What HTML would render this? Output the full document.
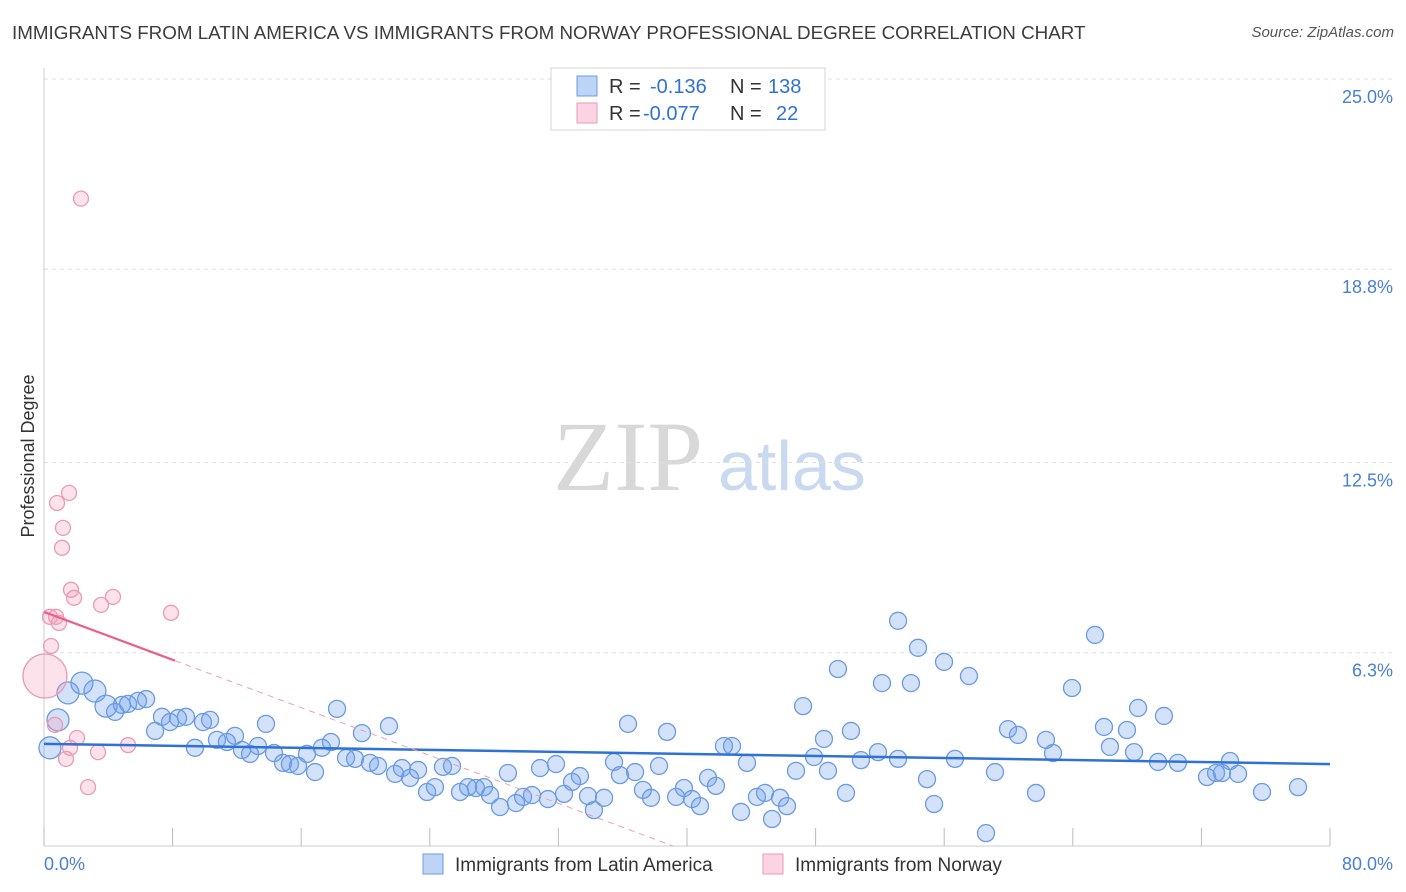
<!DOCTYPE html>
<html><head><meta charset="utf-8">
<style>
body{margin:0;background:#fff;font-family:"Liberation Sans",sans-serif;}
#wrap{position:relative;width:1406px;height:892px;overflow:hidden;}
.title{position:absolute;left:12px;top:22px;font-size:18.8px;color:#3c3c3c;white-space:nowrap;}
.source{position:absolute;right:12px;top:24px;font-size:15px;color:#555;font-style:italic;}
</style></head>
<body>
<div id="wrap">
<div class="title">IMMIGRANTS FROM LATIN AMERICA VS IMMIGRANTS FROM NORWAY PROFESSIONAL DEGREE CORRELATION CHART</div>
<div class="source">Source: ZipAtlas.com</div>
<svg id="chart" width="1406" height="892" style="position:absolute;left:0;top:0">
<text x="553" y="490" font-family="Liberation Serif,serif" font-size="100" fill="#d8d8d8">ZIP</text>
<text x="718" y="490" font-family="Liberation Sans,sans-serif" font-size="70" fill="#c9daf0">atlas</text>
</svg>
</div>
<script>
const blueX=[0.37,0.87,1.49,2.36,3.17,3.86,4.42,4.85,5.23,5.85,6.35,6.91,7.34,7.84,8.34,8.83,9.39,9.89,10.33,10.76,11.38,11.88,12.32,12.82,13.31,13.81,14.31,14.87,15.30,15.80,16.36,16.86,17.29,17.85,18.23,18.79,19.35,19.78,20.28,20.78,21.46,21.84,22.27,22.77,23.27,23.83,24.32,24.82,25.38,25.88,26.38,26.87,27.37,27.75,28.37,28.86,29.36,29.80,30.36,30.86,31.35,31.85,32.35,32.85,33.34,33.84,34.21,34.84,35.46,35.83,36.33,36.77,37.26,37.76,38.26,38.76,39.32,39.81,40.31,40.81,41.31,41.80,42.30,42.80,43.36,43.73,44.35,44.85,45.29,45.79,46.22,46.78,47.22,47.90,48.52,48.77,49.39,49.89,50.20,50.82,51.88,52.13,53.13,53.13,53.93,54.37,54.93,55.37,55.99,56.67,57.54,58.60,59.16,59.97,60.59,61.71,62.33,62.77,63.95,65.38,65.94,66.31,67.37,67.81,68.06,69.30,69.67,70.54,72.35,72.91,73.28,73.78,74.28,75.77,78.01];
const blueY=[3.20,4.11,4.99,5.31,5.05,4.56,4.37,4.60,4.63,4.73,4.79,3.75,4.21,4.04,4.17,4.21,3.20,4.04,4.11,3.46,3.39,3.59,3.13,3.00,3.26,3.98,3.03,2.71,2.67,2.61,3.00,2.41,3.20,3.39,4.47,2.87,2.84,3.68,2.71,2.61,3.91,2.35,2.54,2.22,2.48,1.76,1.92,2.58,2.61,1.76,1.92,1.89,1.92,1.66,1.27,2.38,1.40,1.60,1.66,2.54,1.53,2.67,1.70,2.09,2.28,1.63,1.17,1.57,2.74,2.31,3.98,2.41,1.83,1.57,2.61,3.72,1.60,1.89,1.53,1.30,2.22,1.96,3.26,3.26,1.11,2.71,1.60,1.73,0.88,1.57,1.30,2.45,4.56,2.90,3.49,2.45,5.77,1.73,3.75,2.80,3.06,5.31,2.84,7.34,5.31,6.46,2.18,1.37,6.00,2.84,5.54,0.42,2.41,3.81,3.62,1.73,3.46,3.03,5.15,6.88,3.88,3.23,3.78,3.06,4.50,2.74,4.24,2.71,2.25,2.38,2.38,2.77,2.35,1.76,1.92];
const pinkX=[0.06,0.37,0.68,0.75,0.93,0.44,0.81,1.12,1.18,1.56,1.68,1.87,1.62,1.37,2.05,2.74,3.36,3.55,4.29,5.23,7.90,2.30];
const pinkY=[5.54,7.47,3.95,7.47,7.27,6.52,11.18,9.72,10.37,11.51,8.35,8.09,3.20,2.84,3.52,1.92,3.06,7.86,8.12,3.29,7.60,21.10];
const blueTrend=[3.33,2.67]; // y at x=0 and x=80
const pinkTrend=[7.63,-0.195]; // intercept, slope
const yTicks=[25.0,18.8,12.5,6.3];
const yTickLabels=["25.0%","18.8%","12.5%","6.3%"];
const xLabels=["0.0%","80.0%"];

const NS="http://www.w3.org/2000/svg";
const svg=document.getElementById('chart');
const X0=44,X1=1330,Y0=846,YTOP=79;
const sx=v=>X0+(v/80)*(X1-X0);
const sy=v=>Y0-(v/25)*(Y0-YTOP);
function mk(tag,attrs){const e=document.createElementNS(NS,tag);for(const k in attrs)e.setAttribute(k,attrs[k]);svg.appendChild(e);return e;}

yTicks.forEach((t,i)=>{
  const g=mk('line',{x1:X0,x2:1394,y1:sy(t),y2:sy(t),stroke:'#dedede','stroke-dasharray':'4,4'});
  
  
  const l=mk('text',{x:1393,y:sy(t)+24,'text-anchor':'end','font-size':18,fill:'#4a7fd4'});
  l.textContent=yTickLabels[i];
  
  
});
const ax=mk('line',{x1:X0,x2:X0,y1:68,y2:Y0,stroke:'#cccccc'});


const bx=mk('line',{x1:X0,x2:X1,y1:Y0,y2:Y0,stroke:'#cccccc'});


for(let i=0;i<=10;i++){
  const t=mk('line',{x1:sx(i*8),x2:sx(i*8),y1:Y0-18,y2:Y0,stroke:'#bbbbbb'});
  
  
}
const xl0=mk('text',{x:44,y:870,'font-size':18,fill:'#4a7fd4'});xl0.textContent=xLabels[0];


const xl1=mk('text',{x:1393,y:870,'text-anchor':'end','font-size':18,fill:'#4a7fd4'});xl1.textContent=xLabels[1];


const yt=mk('text',{x:34,y:456,'text-anchor':'middle','font-size':18,fill:'#333',transform:'rotate(-90 34 456)'});yt.textContent='Professional Degree';



blueX.forEach((x,i)=>{
  const c=mk('circle',{cx:sx(x),cy:sy(blueY[i]),r:(i<6)?11:8.5,fill:'rgba(110,160,235,0.3)',stroke:'#6a9be0','stroke-width':1.3});
  
  
});
pinkX.forEach((x,i)=>{
  const c=mk('circle',{cx:sx(x),cy:sy(pinkY[i]),r:i===0?22:7.5,fill:'rgba(245,160,190,0.3)',stroke:'#ea9ab6','stroke-width':1.3});
  
  
});
const bt=mk('line',{x1:sx(0),y1:sy(blueTrend[0]),x2:sx(80),y2:sy(blueTrend[1]),stroke:'#2f72d6','stroke-width':2.5});


const pEnd=8.15,xZero=-pinkTrend[0]/pinkTrend[1];
const pt=mk('line',{x1:sx(0),y1:sy(pinkTrend[0]),x2:sx(pEnd),y2:sy(pinkTrend[0]+pinkTrend[1]*pEnd),stroke:'#e8608a','stroke-width':2.2});


const pd=mk('line',{x1:sx(pEnd),y1:sy(pinkTrend[0]+pinkTrend[1]*pEnd),x2:sx(xZero),y2:sy(0),stroke:'#e8a0b8','stroke-width':1,'stroke-dasharray':'6,5'});



const lb=mk('rect',{x:551,y:68,width:274,height:62,fill:'#fff',stroke:'#d4d4d4'});


[[86,'rgba(110,160,235,0.45)','#6a9be0','-0.136','138'],[113,'rgba(245,160,190,0.45)','#ea9ab6','-0.077','22']].forEach((r,i)=>{
  const s=mk('rect',{x:577,y:r[0]-10,width:20,height:20,fill:r[1],stroke:r[2]});
  
  
  const t=mk('text',{x:609,y:r[0]+7,'font-size':20,fill:'#333'});
  t.innerHTML='R = <tspan fill="#2f72d6" x="'+(i?643:650)+'">'+r[3]+'</tspan><tspan x="730" fill="#333">N =</tspan><tspan fill="#2f72d6" x="'+(i?776:768)+'">'+r[4]+'</tspan>';
  
  
});
[[423,'rgba(110,160,235,0.45)','#6a9be0','Immigrants from Latin America'],[763,'rgba(245,160,190,0.45)','#ea9ab6','Immigrants from Norway']].forEach(r=>{
  const s=mk('rect',{x:r[0],y:854,width:20,height:20,fill:r[1],stroke:r[2]});
  
  
  const t=mk('text',{x:r[0]+32,y:871,'font-size':19,fill:'#333'});
  t.textContent=r[3];
  
  
});
</script>
</body></html>
